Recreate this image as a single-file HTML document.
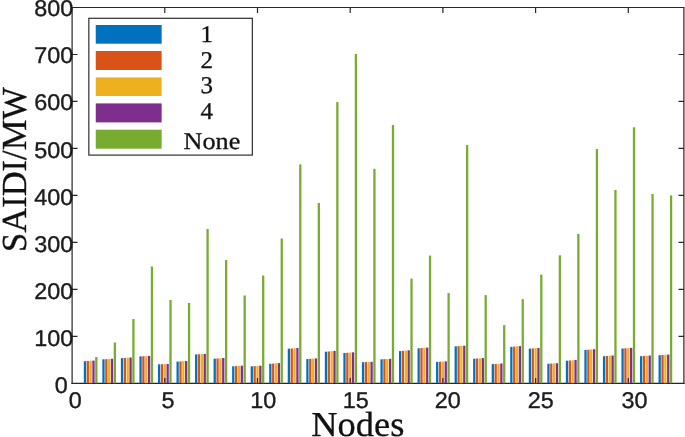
<!DOCTYPE html><html><head><meta charset="utf-8"><title>SAIDI/MW by Nodes</title><style>html,body{margin:0;padding:0;background:#fff}svg{display:block}.t{font-family:"Liberation Sans",sans-serif;font-size:22.8px;fill:#1c1c1c;stroke:#1c1c1c;stroke-width:0.35px;text-rendering:geometricPrecision}.s{font-family:"Liberation Serif",serif;fill:#111;stroke:#111;stroke-width:0.3px;text-rendering:geometricPrecision}</style></head><body>
<svg width="685" height="437" viewBox="0 0 685 437">
<rect width="685" height="437" fill="#fff"/>
<path d="M71.45 383.40H684.55" stroke="#262626" stroke-width="1.2" fill="none"/>
<rect x="83.80" y="361.20" width="2.28" height="22.00" fill="#0072BD"/>
<rect x="86.65" y="361.00" width="2.28" height="22.20" fill="#D95319"/>
<rect x="89.50" y="360.80" width="2.28" height="22.40" fill="#EDB120"/>
<rect x="92.35" y="360.60" width="2.28" height="22.60" fill="#7E2F8E"/>
<rect x="95.20" y="357.00" width="2.28" height="26.20" fill="#77AC30"/>
<rect x="102.34" y="359.30" width="2.28" height="23.90" fill="#0072BD"/>
<rect x="105.19" y="359.13" width="2.28" height="24.07" fill="#D95319"/>
<rect x="108.04" y="358.97" width="2.28" height="24.23" fill="#EDB120"/>
<rect x="110.89" y="358.80" width="2.28" height="24.40" fill="#7E2F8E"/>
<rect x="113.74" y="342.50" width="2.28" height="40.70" fill="#77AC30"/>
<rect x="120.88" y="358.10" width="2.28" height="25.10" fill="#0072BD"/>
<rect x="123.73" y="357.90" width="2.28" height="25.30" fill="#D95319"/>
<rect x="126.58" y="357.70" width="2.28" height="25.50" fill="#EDB120"/>
<rect x="129.43" y="357.50" width="2.28" height="25.70" fill="#7E2F8E"/>
<rect x="132.28" y="319.00" width="2.28" height="64.20" fill="#77AC30"/>
<rect x="139.42" y="356.40" width="2.28" height="26.80" fill="#0072BD"/>
<rect x="142.27" y="356.23" width="2.28" height="26.97" fill="#D95319"/>
<rect x="145.12" y="356.07" width="2.28" height="27.13" fill="#EDB120"/>
<rect x="147.97" y="355.90" width="2.28" height="27.30" fill="#7E2F8E"/>
<rect x="150.82" y="266.50" width="2.28" height="116.70" fill="#77AC30"/>
<rect x="157.96" y="364.30" width="2.28" height="18.90" fill="#0072BD"/>
<rect x="160.81" y="364.20" width="2.28" height="19.00" fill="#D95319"/>
<rect x="163.66" y="364.10" width="2.28" height="19.10" fill="#EDB120"/>
<rect x="166.51" y="364.00" width="2.28" height="19.20" fill="#7E2F8E"/>
<rect x="169.36" y="300.00" width="2.28" height="83.20" fill="#77AC30"/>
<rect x="176.50" y="361.60" width="2.28" height="21.60" fill="#0072BD"/>
<rect x="179.35" y="361.40" width="2.28" height="21.80" fill="#D95319"/>
<rect x="182.20" y="361.20" width="2.28" height="22.00" fill="#EDB120"/>
<rect x="185.05" y="361.00" width="2.28" height="22.20" fill="#7E2F8E"/>
<rect x="187.90" y="303.00" width="2.28" height="80.20" fill="#77AC30"/>
<rect x="195.04" y="354.40" width="2.28" height="28.80" fill="#0072BD"/>
<rect x="197.89" y="354.23" width="2.28" height="28.97" fill="#D95319"/>
<rect x="200.74" y="354.07" width="2.28" height="29.13" fill="#EDB120"/>
<rect x="203.59" y="353.90" width="2.28" height="29.30" fill="#7E2F8E"/>
<rect x="206.44" y="229.00" width="2.28" height="154.20" fill="#77AC30"/>
<rect x="213.58" y="358.70" width="2.28" height="24.50" fill="#0072BD"/>
<rect x="216.43" y="358.47" width="2.28" height="24.73" fill="#D95319"/>
<rect x="219.28" y="358.23" width="2.28" height="24.97" fill="#EDB120"/>
<rect x="222.13" y="358.00" width="2.28" height="25.20" fill="#7E2F8E"/>
<rect x="224.98" y="260.00" width="2.28" height="123.20" fill="#77AC30"/>
<rect x="232.12" y="366.30" width="2.28" height="16.90" fill="#0072BD"/>
<rect x="234.97" y="366.10" width="2.28" height="17.10" fill="#D95319"/>
<rect x="237.82" y="365.90" width="2.28" height="17.30" fill="#EDB120"/>
<rect x="240.67" y="365.70" width="2.28" height="17.50" fill="#7E2F8E"/>
<rect x="243.52" y="295.50" width="2.28" height="87.70" fill="#77AC30"/>
<rect x="250.66" y="366.30" width="2.28" height="16.90" fill="#0072BD"/>
<rect x="253.51" y="366.10" width="2.28" height="17.10" fill="#D95319"/>
<rect x="256.36" y="365.90" width="2.28" height="17.30" fill="#EDB120"/>
<rect x="259.21" y="365.70" width="2.28" height="17.50" fill="#7E2F8E"/>
<rect x="262.06" y="275.50" width="2.28" height="107.70" fill="#77AC30"/>
<rect x="269.20" y="363.80" width="2.28" height="19.40" fill="#0072BD"/>
<rect x="272.05" y="363.57" width="2.28" height="19.63" fill="#D95319"/>
<rect x="274.90" y="363.33" width="2.28" height="19.87" fill="#EDB120"/>
<rect x="277.75" y="363.10" width="2.28" height="20.10" fill="#7E2F8E"/>
<rect x="280.60" y="238.50" width="2.28" height="144.70" fill="#77AC30"/>
<rect x="287.74" y="348.70" width="2.28" height="34.50" fill="#0072BD"/>
<rect x="290.59" y="348.47" width="2.28" height="34.73" fill="#D95319"/>
<rect x="293.44" y="348.23" width="2.28" height="34.97" fill="#EDB120"/>
<rect x="296.29" y="348.00" width="2.28" height="35.20" fill="#7E2F8E"/>
<rect x="299.14" y="164.40" width="2.28" height="218.80" fill="#77AC30"/>
<rect x="306.28" y="359.00" width="2.28" height="24.20" fill="#0072BD"/>
<rect x="309.13" y="358.80" width="2.28" height="24.40" fill="#D95319"/>
<rect x="311.98" y="358.60" width="2.28" height="24.60" fill="#EDB120"/>
<rect x="314.83" y="358.40" width="2.28" height="24.80" fill="#7E2F8E"/>
<rect x="317.68" y="203.00" width="2.28" height="180.20" fill="#77AC30"/>
<rect x="324.82" y="351.70" width="2.28" height="31.50" fill="#0072BD"/>
<rect x="327.67" y="351.43" width="2.28" height="31.77" fill="#D95319"/>
<rect x="330.52" y="351.17" width="2.28" height="32.03" fill="#EDB120"/>
<rect x="333.37" y="350.90" width="2.28" height="32.30" fill="#7E2F8E"/>
<rect x="336.22" y="102.00" width="2.28" height="281.20" fill="#77AC30"/>
<rect x="343.36" y="353.00" width="2.28" height="30.20" fill="#0072BD"/>
<rect x="346.21" y="352.77" width="2.28" height="30.43" fill="#D95319"/>
<rect x="349.06" y="352.53" width="2.28" height="30.67" fill="#EDB120"/>
<rect x="351.91" y="352.30" width="2.28" height="30.90" fill="#7E2F8E"/>
<rect x="354.76" y="54.00" width="2.28" height="329.20" fill="#77AC30"/>
<rect x="361.90" y="362.20" width="2.28" height="21.00" fill="#0072BD"/>
<rect x="364.75" y="362.07" width="2.28" height="21.13" fill="#D95319"/>
<rect x="367.60" y="361.93" width="2.28" height="21.27" fill="#EDB120"/>
<rect x="370.45" y="361.80" width="2.28" height="21.40" fill="#7E2F8E"/>
<rect x="373.30" y="168.80" width="2.28" height="214.40" fill="#77AC30"/>
<rect x="380.44" y="359.30" width="2.28" height="23.90" fill="#0072BD"/>
<rect x="383.29" y="359.13" width="2.28" height="24.07" fill="#D95319"/>
<rect x="386.14" y="358.97" width="2.28" height="24.23" fill="#EDB120"/>
<rect x="388.99" y="358.80" width="2.28" height="24.40" fill="#7E2F8E"/>
<rect x="391.84" y="125.00" width="2.28" height="258.20" fill="#77AC30"/>
<rect x="398.98" y="351.10" width="2.28" height="32.10" fill="#0072BD"/>
<rect x="401.83" y="350.83" width="2.28" height="32.37" fill="#D95319"/>
<rect x="404.68" y="350.57" width="2.28" height="32.63" fill="#EDB120"/>
<rect x="407.53" y="350.30" width="2.28" height="32.90" fill="#7E2F8E"/>
<rect x="410.38" y="278.60" width="2.28" height="104.60" fill="#77AC30"/>
<rect x="417.52" y="348.30" width="2.28" height="34.90" fill="#0072BD"/>
<rect x="420.37" y="348.07" width="2.28" height="35.13" fill="#D95319"/>
<rect x="423.22" y="347.83" width="2.28" height="35.37" fill="#EDB120"/>
<rect x="426.07" y="347.60" width="2.28" height="35.60" fill="#7E2F8E"/>
<rect x="428.92" y="255.60" width="2.28" height="127.60" fill="#77AC30"/>
<rect x="436.06" y="361.90" width="2.28" height="21.30" fill="#0072BD"/>
<rect x="438.91" y="361.70" width="2.28" height="21.50" fill="#D95319"/>
<rect x="441.76" y="361.50" width="2.28" height="21.70" fill="#EDB120"/>
<rect x="444.61" y="361.30" width="2.28" height="21.90" fill="#7E2F8E"/>
<rect x="447.46" y="293.10" width="2.28" height="90.10" fill="#77AC30"/>
<rect x="454.60" y="346.30" width="2.28" height="36.90" fill="#0072BD"/>
<rect x="457.45" y="346.10" width="2.28" height="37.10" fill="#D95319"/>
<rect x="460.30" y="345.90" width="2.28" height="37.30" fill="#EDB120"/>
<rect x="463.15" y="345.70" width="2.28" height="37.50" fill="#7E2F8E"/>
<rect x="466.00" y="145.10" width="2.28" height="238.10" fill="#77AC30"/>
<rect x="473.14" y="358.70" width="2.28" height="24.50" fill="#0072BD"/>
<rect x="475.99" y="358.50" width="2.28" height="24.70" fill="#D95319"/>
<rect x="478.84" y="358.30" width="2.28" height="24.90" fill="#EDB120"/>
<rect x="481.69" y="358.10" width="2.28" height="25.10" fill="#7E2F8E"/>
<rect x="484.54" y="295.10" width="2.28" height="88.10" fill="#77AC30"/>
<rect x="491.68" y="364.10" width="2.28" height="19.10" fill="#0072BD"/>
<rect x="494.53" y="363.90" width="2.28" height="19.30" fill="#D95319"/>
<rect x="497.38" y="363.70" width="2.28" height="19.50" fill="#EDB120"/>
<rect x="500.23" y="363.50" width="2.28" height="19.70" fill="#7E2F8E"/>
<rect x="503.08" y="325.10" width="2.28" height="58.10" fill="#77AC30"/>
<rect x="510.22" y="346.80" width="2.28" height="36.40" fill="#0072BD"/>
<rect x="513.07" y="346.57" width="2.28" height="36.63" fill="#D95319"/>
<rect x="515.92" y="346.33" width="2.28" height="36.87" fill="#EDB120"/>
<rect x="518.77" y="346.10" width="2.28" height="37.10" fill="#7E2F8E"/>
<rect x="521.62" y="299.10" width="2.28" height="84.10" fill="#77AC30"/>
<rect x="528.76" y="348.60" width="2.28" height="34.60" fill="#0072BD"/>
<rect x="531.61" y="348.37" width="2.28" height="34.83" fill="#D95319"/>
<rect x="534.46" y="348.13" width="2.28" height="35.07" fill="#EDB120"/>
<rect x="537.31" y="347.90" width="2.28" height="35.30" fill="#7E2F8E"/>
<rect x="540.16" y="274.60" width="2.28" height="108.60" fill="#77AC30"/>
<rect x="547.30" y="363.70" width="2.28" height="19.50" fill="#0072BD"/>
<rect x="550.15" y="363.53" width="2.28" height="19.67" fill="#D95319"/>
<rect x="553.00" y="363.37" width="2.28" height="19.83" fill="#EDB120"/>
<rect x="555.85" y="363.20" width="2.28" height="20.00" fill="#7E2F8E"/>
<rect x="558.70" y="255.30" width="2.28" height="127.90" fill="#77AC30"/>
<rect x="565.84" y="360.70" width="2.28" height="22.50" fill="#0072BD"/>
<rect x="568.69" y="360.47" width="2.28" height="22.73" fill="#D95319"/>
<rect x="571.54" y="360.23" width="2.28" height="22.97" fill="#EDB120"/>
<rect x="574.39" y="360.00" width="2.28" height="23.20" fill="#7E2F8E"/>
<rect x="577.24" y="234.00" width="2.28" height="149.20" fill="#77AC30"/>
<rect x="584.38" y="349.90" width="2.28" height="33.30" fill="#0072BD"/>
<rect x="587.23" y="349.67" width="2.28" height="33.53" fill="#D95319"/>
<rect x="590.08" y="349.43" width="2.28" height="33.77" fill="#EDB120"/>
<rect x="592.93" y="349.20" width="2.28" height="34.00" fill="#7E2F8E"/>
<rect x="595.78" y="148.90" width="2.28" height="234.30" fill="#77AC30"/>
<rect x="602.92" y="356.20" width="2.28" height="27.00" fill="#0072BD"/>
<rect x="605.77" y="355.97" width="2.28" height="27.23" fill="#D95319"/>
<rect x="608.62" y="355.73" width="2.28" height="27.47" fill="#EDB120"/>
<rect x="611.47" y="355.50" width="2.28" height="27.70" fill="#7E2F8E"/>
<rect x="614.32" y="189.90" width="2.28" height="193.30" fill="#77AC30"/>
<rect x="621.46" y="348.50" width="2.28" height="34.70" fill="#0072BD"/>
<rect x="624.31" y="348.30" width="2.28" height="34.90" fill="#D95319"/>
<rect x="627.16" y="348.10" width="2.28" height="35.10" fill="#EDB120"/>
<rect x="630.01" y="347.90" width="2.28" height="35.30" fill="#7E2F8E"/>
<rect x="632.86" y="127.30" width="2.28" height="255.90" fill="#77AC30"/>
<rect x="640.00" y="356.20" width="2.28" height="27.00" fill="#0072BD"/>
<rect x="642.85" y="355.97" width="2.28" height="27.23" fill="#D95319"/>
<rect x="645.70" y="355.73" width="2.28" height="27.47" fill="#EDB120"/>
<rect x="648.55" y="355.50" width="2.28" height="27.70" fill="#7E2F8E"/>
<rect x="651.40" y="193.90" width="2.28" height="189.30" fill="#77AC30"/>
<rect x="658.54" y="355.20" width="2.28" height="28.00" fill="#0072BD"/>
<rect x="661.39" y="355.00" width="2.28" height="28.20" fill="#D95319"/>
<rect x="664.24" y="354.80" width="2.28" height="28.40" fill="#EDB120"/>
<rect x="667.09" y="354.60" width="2.28" height="28.60" fill="#7E2F8E"/>
<rect x="669.94" y="195.40" width="2.28" height="187.80" fill="#77AC30"/>
<g stroke="#262626" stroke-width="1.2" fill="none">
<path d="M72.10 384.00V7.50H683.90V384.00"/>
<path d="M164.80 383.30v-5.40M164.80 7.50v5.40"/>
<path d="M257.50 383.30v-5.40M257.50 7.50v5.40"/>
<path d="M350.20 383.30v-5.40M350.20 7.50v5.40"/>
<path d="M442.90 383.30v-5.40M442.90 7.50v5.40"/>
<path d="M535.60 383.30v-5.40M535.60 7.50v5.40"/>
<path d="M628.30 383.30v-5.40M628.30 7.50v5.40"/>
<path d="M72.10 336.32h5.40M683.90 336.32h-5.40"/>
<path d="M72.10 289.35h5.40M683.90 289.35h-5.40"/>
<path d="M72.10 242.38h5.40M683.90 242.38h-5.40"/>
<path d="M72.10 195.40h5.40M683.90 195.40h-5.40"/>
<path d="M72.10 148.43h5.40M683.90 148.43h-5.40"/>
<path d="M72.10 101.45h5.40M683.90 101.45h-5.40"/>
<path d="M72.10 54.48h5.40M683.90 54.48h-5.40"/>
</g>
<text class="t" transform="translate(75.3 408.0) scale(1.025 1)" text-anchor="middle">0</text>
<text class="t" transform="translate(167.9 408.0) scale(1.025 1)" text-anchor="middle">5</text>
<text class="t" transform="translate(263.3 408.0) scale(1.025 1)" text-anchor="middle">10</text>
<text class="t" transform="translate(355.7 408.0) scale(1.025 1)" text-anchor="middle">15</text>
<text class="t" transform="translate(447.8 408.0) scale(1.025 1)" text-anchor="middle">20</text>
<text class="t" transform="translate(540.7 408.0) scale(1.025 1)" text-anchor="middle">25</text>
<text class="t" transform="translate(634.5 408.0) scale(1.025 1)" text-anchor="middle">30</text>
<text class="t" transform="translate(67.8 393.1) scale(1.025 1)" text-anchor="end">0</text>
<text class="t" transform="translate(73.2 346.4) scale(1.025 1)" text-anchor="end">100</text>
<text class="t" transform="translate(73.2 298.6) scale(1.025 1)" text-anchor="end">200</text>
<text class="t" transform="translate(73.2 251.7) scale(1.025 1)" text-anchor="end">300</text>
<text class="t" transform="translate(73.2 204.5) scale(1.025 1)" text-anchor="end">400</text>
<text class="t" transform="translate(73.2 157.5) scale(1.025 1)" text-anchor="end">500</text>
<text class="t" transform="translate(73.2 110.0) scale(1.025 1)" text-anchor="end">600</text>
<text class="t" transform="translate(73.2 63.0) scale(1.025 1)" text-anchor="end">700</text>
<text class="t" transform="translate(73.2 16.2) scale(1.025 1)" text-anchor="end">800</text>
<text class="s" transform="translate(357.8 435.6) scale(1.04 1)" text-anchor="middle" font-size="35">Nodes</text>
<text class="s" transform="translate(25.6 169.5) rotate(-90) scale(1 1.02)" text-anchor="middle" font-size="34.5">SAIDI/MW</text>
<rect x="88.85" y="18.3" width="163.5" height="136.8" fill="#fff" stroke="#262626" stroke-width="1.15"/>
<rect x="95.75" y="25.0" width="65.9" height="18.7" fill="#0072BD"/>
<text class="s" transform="translate(206.8 42.0) scale(1.04 1)" text-anchor="middle" font-size="24">1</text>
<rect x="95.75" y="51.0" width="65.9" height="19.0" fill="#D95319"/>
<text class="s" transform="translate(206.8 68.0) scale(1.04 1)" text-anchor="middle" font-size="24">2</text>
<rect x="95.75" y="77.4" width="65.9" height="18.6" fill="#EDB120"/>
<text class="s" transform="translate(206.8 93.0) scale(1.04 1)" text-anchor="middle" font-size="24">3</text>
<rect x="95.75" y="103.4" width="65.9" height="19.0" fill="#7E2F8E"/>
<text class="s" transform="translate(206.8 119.0) scale(1.04 1)" text-anchor="middle" font-size="24">4</text>
<rect x="95.75" y="129.7" width="65.9" height="19.0" fill="#77AC30"/>
<text class="s" transform="translate(211.9 149.0) scale(1.09 1)" text-anchor="middle" font-size="24">None</text>
</svg></body></html>
